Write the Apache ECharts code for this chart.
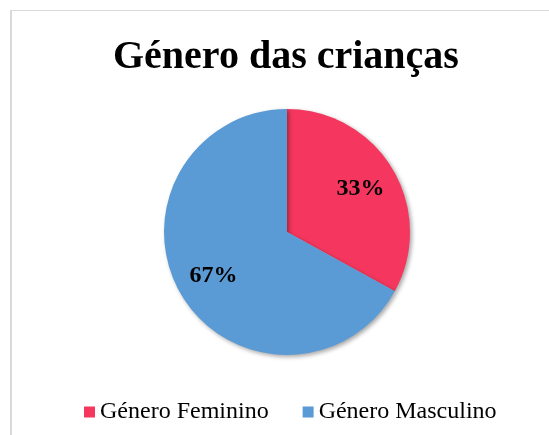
<!DOCTYPE html>
<html>
<head>
<meta charset="utf-8">
<script src="https://cdn.jsdelivr.net/npm/echarts@6/dist/echarts.min.js"></script>
<style>
  html, body { margin: 0; padding: 0; background: #fff; }
  #chart { width: 549px; height: 435px; }
</style>
</head>
<body>
<div id="chart"></div>
<script>
// dados do gráfico
var categorias = ['Género Feminino', 'Género Masculino'];
var valores = [33, 67];
var cores = ['#F5375F', '#5B9BD5'];

var fonte = '"Liberation Serif", "Times New Roman", serif';

var myChart = echarts.init(document.getElementById('chart'));

var dados = categorias.map(function (nome, i) {
  return { name: nome, value: valores[i], itemStyle: { color: cores[i] } };
});

var option = {
  animation: false,
  textStyle: { fontFamily: fonte },
  title: {
    text: 'Género das crianças',
    left: 108,
    top: 33,
    textStyle: {
      fontFamily: fonte,
      fontWeight: 'bold',
      fontSize: 40,
      color: '#000'
    }
  },
  legend: {
    top: 395,
    left: 79,
    itemWidth: 11,
    itemHeight: 11,
    itemGap: 34,
    icon: 'rect',
    textStyle: {
      fontFamily: fonte,
      fontSize: 24,
      color: '#000'
    },
    data: categorias
  },
  graphic: [
    { type: 'line', shape: { x1: 11, y1: 10, x2: 11, y2: 440 }, style: { stroke: '#d9d9d9', lineWidth: 2 } },
    { type: 'line', shape: { x1: 10, y1: 10.5, x2: 560, y2: 10.5 }, style: { stroke: '#d9d9d9', lineWidth: 1 } }
  ],
  series: [
    {
      type: 'pie',
      center: [287, 232],
      radius: [0, 123],
      startAngle: 90,
      label: { show: false },
      labelLine: { show: false },
      itemStyle: {
        shadowBlur: 4,
        shadowOffsetX: 2,
        shadowOffsetY: 2,
        shadowColor: 'rgba(0,0,0,0.35)'
      },
      emphasis: { disabled: true },
      data: dados
    },
    {
      // série invisível só para posicionar os rótulos
      type: 'pie',
      center: [287, 232],
      radius: [42, 123],
      startAngle: 90,
      silent: true,
      itemStyle: { color: 'rgba(0,0,0,0)' },
      label: {
        show: true,
        position: 'inside',
        formatter: '{d}%',
        fontFamily: fonte,
        fontWeight: 'bold',
        fontSize: 24,
        color: '#000'
      },
      labelLine: { show: false },
      emphasis: { disabled: true },
      data: categorias.map(function (nome, i) { return { name: nome, value: valores[i] }; })
    }
  ]
};

myChart.setOption(option);
</script>
</body>
</html>
